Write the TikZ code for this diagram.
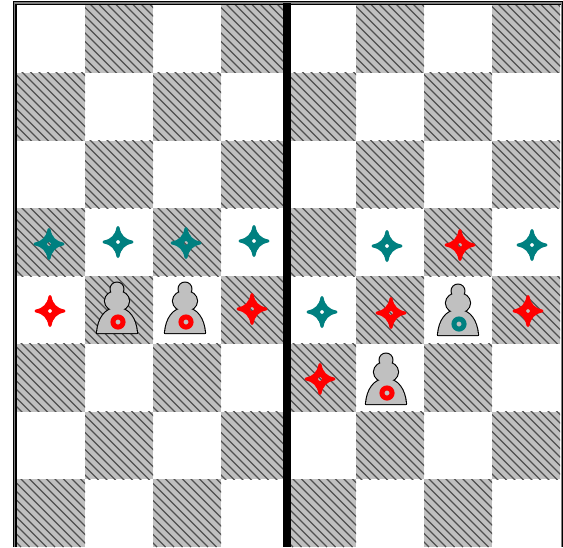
\documentclass[tikz,border=0pt]{standalone}
\definecolor{tealstar}{RGB}{0,128,128}
\definecolor{redstar}{RGB}{255,0,0}
\definecolor{cellgrey}{RGB}{192,192,192}
\definecolor{hatchline}{RGB}{80,80,80}
\tikzset{
  hatchstroke/.style={draw=hatchline,line width=1.2pt},
  pics/crossstar/.style={code={
    \fill[#1,even odd rule,draw=#1,line width=3pt,line join=round]
      (0,-14.5) .. controls (1.5,-6) and (6,-1.5) .. (14,0)
      .. controls (6,1.5) and (1.5,6) .. (0,14.5)
      .. controls (-1.5,6) and (-6,1.5) .. (-14,0)
      .. controls (-6,-1.5) and (-1.5,-6) .. (0,-14.5) -- cycle
      (0,0) circle[radius=3.6pt];
  }},
  pics/pawnpiece/.style={code={
    \def\pawnhead{(-1,-33) circle[radius=6.4pt]}
    \def\pawnchest{(-1,-21) ellipse[x radius=12pt,y radius=10pt]}
    \def\pawnbase{(-21,11) .. controls (-20,-3) and (-13,-14) .. (-1,-14)
      .. controls (11,-14) and (18,-3) .. (19,11) -- cycle}
    \draw[black,line width=2.2pt,line join=round] \pawnhead \pawnchest \pawnbase;
    \fill[cellgrey] \pawnhead;
    \fill[cellgrey] \pawnchest;
    \fill[cellgrey] \pawnbase;
    \fill[#1,even odd rule] (0,0) circle[radius=7.6pt] (0,0) circle[radius=2.6pt];
  }}
}
\begin{document}
\begin{tikzpicture}[x=1pt,y=-1pt]
\useasboundingbox (0,0) rectangle (563,547);
\fill[white] (0,0) rectangle (563,547);
% dark squares
\foreach \bx in {17,288}{
  \foreach \r in {0,...,7}{
    \foreach \c in {0,...,3}{
      \pgfmathtruncatemacro{\parity}{mod(\r+\c,2)}
      \ifnum\parity=1
        \pgfmathsetmacro{\xa}{\bx+68*\c}
        \pgfmathsetmacro{\ya}{5+67.75*\r}
        \pgfmathsetmacro{\xb}{\xa+68}
        \pgfmathsetmacro{\yb}{\ya+67.75}
        \begin{scope}
          \clip (\xa,\ya) rectangle (\xb,\yb);
          \fill[cellgrey] (\xa,\ya) rectangle (\xb,\yb);
          \foreach \k in {-560,-551.5,...,560}{
            \draw[hatchstroke] (\k,0) -- (\k+547,547);
          }
        \end{scope}
      \fi
    }
  }
}
% frame and divider
\draw[gray,line width=2.4pt] (14.6,547) -- (14.6,3) -- (561.8,3) -- (561.8,547);
\draw[black,line width=1.4pt] (13.2,547) -- (13.2,1.6) -- (562.3,1.6) -- (562.3,547);
\draw[black,line width=1.6pt] (15.9,547) -- (15.9,4.3) -- (561,4.3);
\fill[black] (283,3) rectangle (291,547);
% teal stars
\foreach \px/\py in {49/244,118/242,186/243,254/241,387/246,532/245,322/312}
  \pic at (\px,\py) {crossstar=tealstar};
% red stars
\foreach \px/\py in {50/311,252/309,460/245,391/313,528/311,320/379}
  \pic at (\px,\py) {crossstar=redstar};
% pawns
\foreach \px/\py/\pc in {118/322/redstar,186/322/redstar,387/393/redstar,459/324/tealstar}
  \pic at (\px,\py) {pawnpiece=\pc};
\end{tikzpicture}
\end{document}
